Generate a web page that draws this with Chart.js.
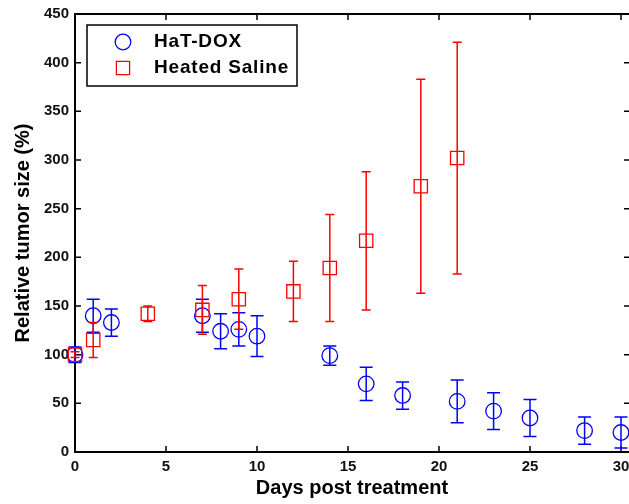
<!DOCTYPE html>
<html>
<head>
<meta charset="utf-8">
<script src="https://cdn.jsdelivr.net/npm/chart.js@4.4.1/dist/chart.umd.min.js"></script>
<style>
  html, body { margin: 0; padding: 0; background: #fff; }
  #tumor { display: block; }
</style>
</head>
<body>
<canvas id="tumor" width="629" height="504"></canvas>
<script>
// ---- data ----
const hatDays = [0, 1, 2, 7, 8, 9, 10, 14, 16, 18, 21, 23, 25, 28, 30];
const hatMean = [100, 140, 133, 140, 124, 126, 119, 99, 70, 58, 52, 42, 35, 22, 20];
const hatErr  = [8, 17, 14, 17, 18, 17, 21, 10, 17, 14, 22, 19, 19, 14, 16];

const salDays = [0, 1, 4, 7, 9, 12, 14, 16, 19, 21];
const salMean = [100, 115, 142, 146, 157, 165, 189, 217, 273, 302];
const salErr  = [3, 18, 8, 25, 31, 31, 55, 71, 110, 119];

const seriesNames = ["HaT-DOX", "Heated Saline"];
const xTicksStep = 5;
const yTicksStep = 50;

const FONT = "'Liberation Sans', Arial, sans-serif";
const BLUE = "#0000ff";
const RED = "#ff0000";

const toPoints = (xs, ys) => xs.map((x, i) => ({ x: x, y: ys[i] }));

// error bars drawn right after each dataset, through the chart's scales
const errorBars = {
    id: "errorBars",
    afterDatasetDraw(chart, args) {
        const ds = chart.data.datasets[args.index];
        if (!ds.errors) return;
        const ctx = chart.ctx;
        const y = chart.scales.y;
        ctx.save();
        ctx.strokeStyle = ds.borderColor;
        ctx.lineWidth = 1.5;
        args.meta.data.forEach((pt, i) => {
            const v = ds.data[i].y, e = ds.errors[i];
            const top = y.getPixelForValue(v + e);
            const bot = y.getPixelForValue(v - e);
            const w = ds.capHalf;
            ctx.beginPath();
            ctx.moveTo(pt.x, top); ctx.lineTo(pt.x, bot);
            ctx.moveTo(pt.x - w, top); ctx.lineTo(pt.x + w, top);
            ctx.moveTo(pt.x - w, bot); ctx.lineTo(pt.x + w, bot);
            ctx.stroke();
        });
        ctx.restore();
    }
};

// box frame with inward ticks (matlab style); right edge falls just off the canvas
const frame = {
    id: "frame",
    beforeDatasetsDraw(chart) {
        const { ctx, chartArea: a, scales } = chart;
        const len = 6;
        ctx.save();
        ctx.strokeStyle = "#000";
        ctx.lineWidth = 2;
        ctx.beginPath();
        ctx.moveTo(a.right + 2, a.top); ctx.lineTo(a.left, a.top);
        ctx.lineTo(a.left, a.bottom); ctx.lineTo(a.right + 2, a.bottom);
        ctx.stroke();
        ctx.lineWidth = 1.5;
        ctx.beginPath();
        scales.x.ticks.forEach(t => {
            const px = scales.x.getPixelForValue(t.value);
            ctx.moveTo(px, a.bottom); ctx.lineTo(px, a.bottom - len);
            ctx.moveTo(px, a.top); ctx.lineTo(px, a.top + len);
        });
        scales.y.ticks.forEach(t => {
            const py = scales.y.getPixelForValue(t.value);
            ctx.moveTo(a.left, py); ctx.lineTo(a.left + len, py);
            ctx.moveTo(a.right + 1, py); ctx.lineTo(a.right + 1 - len, py);
        });
        ctx.stroke();
        ctx.restore();
    }
};

// boxed legend in the upper left corner
const boxLegend = {
    id: "boxLegend",
    afterDraw(chart) {
        const ctx = chart.ctx;
        const bx = 87, by = 25, bw = 210, bh = 61;
        ctx.save();
        ctx.fillStyle = "#fff";
        ctx.fillRect(bx, by, bw, bh);
        ctx.strokeStyle = "#000";
        ctx.lineWidth = 1.5;
        ctx.strokeRect(bx, by, bw, bh);
        const rows = [42, 68];
        chart.data.datasets.forEach((ds, i) => {
            const cy = rows[i], cx = 123;
            ctx.strokeStyle = ds.borderColor;
            ctx.lineWidth = 1.3;
            ctx.beginPath();
            if (ds.pointStyle === "circle") ctx.arc(cx, cy, 7.8, 0, Math.PI * 2);
            else ctx.rect(cx - 6.6, cy - 6.6, 13.2, 13.2);
            ctx.stroke();
            ctx.fillStyle = "#000";
            ctx.font = "bold 19px " + FONT;
            ctx.letterSpacing = "0.8px";
            ctx.textBaseline = "middle";
            ctx.fillText(ds.label, 154, cy);
        });
        ctx.restore();
    }
};

const tickFont = { family: FONT, size: 15, weight: "bold" };
const titleFont = { family: FONT, size: 20, weight: "bold" };

new Chart(document.getElementById("tumor"), {
    type: "scatter",
    data: {
        datasets: [
            {
                label: seriesNames[0],
                data: toPoints(hatDays, hatMean),
                errors: hatErr,
                capHalf: 6.5,
                pointStyle: "circle",
                pointRadius: 7.8,
                pointBorderWidth: 1.3,
                borderColor: BLUE,
                backgroundColor: "rgba(0,0,0,0)",
                clip: false,
                order: 1
            },
            {
                label: seriesNames[1],
                data: toPoints(salDays, salMean),
                errors: salErr,
                capHalf: 4.5,
                pointStyle: "rect",
                pointRadius: 9.4,
                pointBorderWidth: 1.3,
                borderColor: RED,
                backgroundColor: "rgba(0,0,0,0)",
                clip: false,
                order: 0
            }
        ]
    },
    options: {
        responsive: false,
        animation: false,
        devicePixelRatio: 1,
        layout: { autoPadding: false, padding: { top: 14, right: 0, left: 0, bottom: 0 } },
        plugins: { legend: { display: false }, tooltip: { enabled: false } },
        scales: {
            x: {
                type: "linear",
                min: 0,
                max: 30.44,
                grid: { display: false, drawTicks: false },
                border: { display: false },
                ticks: { stepSize: xTicksStep, includeBounds: false, color: "#111", font: tickFont, padding: 6, maxRotation: 0 },
                title: { display: true, text: "Days post treatment", color: "#000", font: titleFont, padding: { top: 0, bottom: 4 } },
                afterFit: s => { s.height = 52; s.paddingRight = 0; s.paddingLeft = 0; }
            },
            y: {
                min: 0,
                max: 450,
                grid: { display: false, drawTicks: false },
                border: { display: false },
                ticks: { stepSize: yTicksStep, color: "#111", font: tickFont, padding: 6 },
                title: { display: true, text: "Relative tumor size (%)", color: "#000", font: titleFont, padding: { top: 11, bottom: 0 } },
                afterFit: s => { s.width = 75; s.paddingTop = 0; s.paddingBottom = 0; }
            }
        }
    },
    plugins: [frame, errorBars, boxLegend]
});
</script>
</body>
</html>
